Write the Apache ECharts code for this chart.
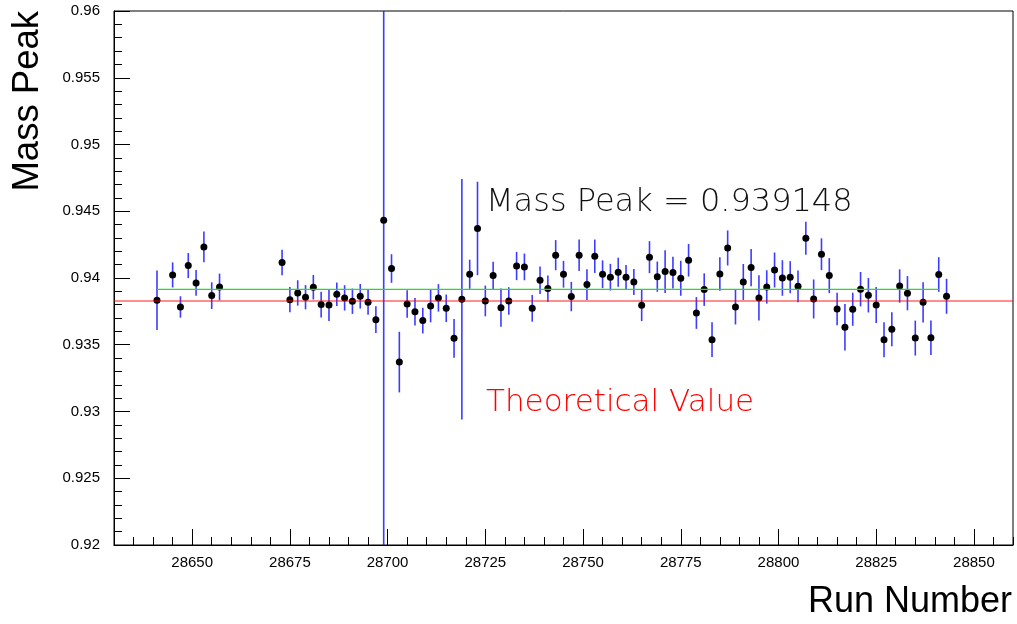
<!DOCTYPE html>
<html><head><meta charset="utf-8">
<script src="https://cdn.jsdelivr.net/npm/echarts@6/dist/echarts.min.js"></script>
<style>html,body{margin:0;padding:0;background:#fff}#c{width:1017px;height:624px}</style>
</head><body><div id="c"></div><script>
// ---- data ----
const runs = [28641,28645,28647,28649,28651,28653,28655,28657,
  28673,28675,28677,28679,28681,28683,28685,28687,28689,28691,28693,28695,28697,28699,
  28701,28703,28705,28707,28709,28711,28713,28715,28717,28719,28721,28723,28725,28727,28729,
  28731,28733,28735,28737,28739,28741,28743,28745,28747,28749,28751,28753,28755,28757,28759,
  28761,28763,28765,28767,28769,28771,28773,28775,28777,28779,28781,28783,28785,28787,28789,
  28791,28793,28795,28797,28799,28801,28803,28805,28807,28809,28811,28813,28815,28817,28819,
  28821,28823,28825,28827,28829,28831,28833,28835,28837,28839,28841,28843];
const peaks = [0.93833,0.94023,0.93783,0.94093,0.93963,0.94233,0.93868,0.93933,
  0.94116,0.93838,0.93888,0.93856,0.93931,0.93801,0.93798,0.93878,0.93851,0.93826,0.93863,0.93818,0.93688,0.94433,
  0.94071,0.93370,0.93805,0.93748,0.93681,0.93790,0.93851,0.93773,0.93548,0.93841,0.94028,0.94371,0.93828,0.94018,0.93778,
  0.93828,0.94090,0.94083,0.93773,0.93983,0.93921,0.94171,0.94028,0.93861,0.94171,0.93951,0.94163,0.94028,0.94006,0.94043,
  0.94006,0.93970,0.93796,0.94156,0.94010,0.94048,0.94041,0.93998,0.94133,0.93738,0.93913,0.93538,0.94030,0.94225,0.93783,
  0.93970,0.94078,0.93851,0.93933,0.94060,0.94000,0.94006,0.93938,0.94298,0.93843,0.94178,0.94018,0.93768,0.93631,0.93766,
  0.93916,0.93871,0.93798,0.93538,0.93616,0.93940,0.93886,0.93550,0.93818,0.93553,0.94026,0.93863];
const errors = [0.00223,0.00094,0.00080,0.00094,0.00096,0.00115,0.00100,0.00100,
  0.00096,0.00094,0.00095,0.00091,0.00092,0.00096,0.00120,0.00088,0.00095,0.00095,0.00092,0.00094,0.00100,0.03000,
  0.00107,0.00227,0.00103,0.00103,0.00096,0.00122,0.00103,0.00103,0.00145,0.00900,0.00109,0.00350,0.00115,0.00104,0.00144,
  0.00103,0.00106,0.00100,0.00100,0.00103,0.00098,0.00113,0.00100,0.00110,0.00118,0.00115,0.00125,0.00104,0.00100,0.00109,
  0.00091,0.00098,0.00119,0.00120,0.00113,0.00160,0.00119,0.00131,0.00122,0.00119,0.00122,0.00130,0.00125,0.00131,0.00131,
  0.00135,0.00139,0.00169,0.00125,0.00131,0.00133,0.00120,0.00119,0.00124,0.00146,0.00119,0.00131,0.00121,0.00174,0.00124,
  0.00129,0.00129,0.00135,0.00131,0.00128,0.00125,0.00128,0.00131,0.00151,0.00129,0.00130,0.00131];
const xTickLabels = [28650,28675,28700,28725,28750,28775,28800,28825,28850];
const yTickLabels = [0.92,0.925,0.93,0.935,0.94,0.945,0.95,0.955,0.96];
const fitValue = 0.939148;
const fitRange = [28641, 28841];
const theoreticalValue = 0.938272;
const xRange = [28630, 28860];
const yRange = [0.92, 0.96];

// ---- chart ----
const chart = echarts.init(document.getElementById('c'), null, {renderer:'canvas'});
const F = '"Liberation Sans", Arial, sans-serif';
const black = '#000';
const points = runs.map((r,i)=>[r, peaks[i], errors[i]]);

chart.setOption({
  animation:false,
  backgroundColor:'#fff',
  grid:{left:114, top:11, right:4, bottom:79, show:true, borderColor:black, borderWidth:1, backgroundColor:'transparent'},
  xAxis:[{
    type:'value', min:xRange[0], max:xRange[1], position:'bottom',
    axisLine:{show:true, lineStyle:{color:black, width:1}},
    axisTick:{show:true, inside:true, length:16, customValues:xTickLabels, lineStyle:{color:black}},
    axisLabel:{show:true, customValues:xTickLabels, margin:10, fontSize:15, fontFamily:F, color:black,
      formatter:v=>String(v)},
    splitLine:{show:false}
  },{
    type:'value', min:xRange[0], max:xRange[1], interval:5, position:'bottom',
    axisLine:{show:false},
    axisTick:{show:true, inside:true, length:8, lineStyle:{color:black}},
    axisLabel:{show:false}, splitLine:{show:false}
  }],
  yAxis:{
    type:'value', min:yRange[0], max:yRange[1], interval:0.005,
    axisLine:{show:true, lineStyle:{color:black, width:1}},
    axisTick:{show:true, inside:true, length:16, lineStyle:{color:black}},
    minorTick:{show:true, splitNumber:5, length:8, lineStyle:{color:black}},
    axisLabel:{show:true, margin:14, fontSize:15, fontFamily:F, color:black,
      formatter:v=>String(+v.toFixed(3))},
    splitLine:{show:false}, minorSplitLine:{show:false}
  },
  series:[{
    type:'custom', xAxisIndex:0, yAxisIndex:0, z:2,
    data:points,
    renderItem:(params, api)=>{
      const x = api.value(0), y = api.value(1), e = api.value(2);
      const p1 = api.coord([x, y+e]), p2 = api.coord([x, y-e]);
      const cs = params.coordSys;
      const top = Math.max(cs.y, p1[1]), bot = Math.min(cs.y+cs.height, p2[1]);
      return {type:'line', shape:{x1:p1[0], y1:top, x2:p2[0], y2:bot},
        style:{stroke:'#1a1aff', lineWidth:1.6, opacity:0.85}};
    }
  },{
    type:'scatter', xAxisIndex:0, yAxisIndex:0, z:3,
    data:runs.map((r,i)=>[r, peaks[i]]),
    symbol:'circle', symbolSize:7, itemStyle:{color:black, opacity:1}
  },{
    type:'line', xAxisIndex:0, yAxisIndex:0, z:4,
    data:[[fitRange[0], fitValue],[fitRange[1], fitValue]],
    showSymbol:false, lineStyle:{color:'#22dd22', width:1.2}
  },{
    type:'line', xAxisIndex:0, yAxisIndex:0, z:4,
    data:[[xRange[0], theoreticalValue],[xRange[1], theoreticalValue]],
    showSymbol:false, lineStyle:{color:'#ff0000', width:1.6, opacity:0.6}
  }],
  graphic:[
    {type:'text', x:28, y:11, rotation:Math.PI/2, z:10,
      style:{text:'Mass Peak', fontSize:36.5, fontFamily:F, fill:black, align:'right', verticalAlign:'middle'}},
    {type:'text', x:1012, y:602, z:10,
      style:{text:'Run Number', fontSize:36, fontFamily:F, fill:black, align:'right', verticalAlign:'middle'}},
    {type:'text', x:486, y:203, z:10,
      style:{text:'Mass Peak = 0.939148', fontSize:32, fontWeight:200, fontFamily:'"DejaVu Sans"', fill:'#111', align:'left', verticalAlign:'middle'}},
    {type:'text', x:486, y:403, z:10,
      style:{text:'Theoretical Value', fontSize:31, fontWeight:200, fontFamily:'"DejaVu Sans"', fill:'#ff0000', align:'left', verticalAlign:'middle'}}
  ]
});
</script></body></html>
